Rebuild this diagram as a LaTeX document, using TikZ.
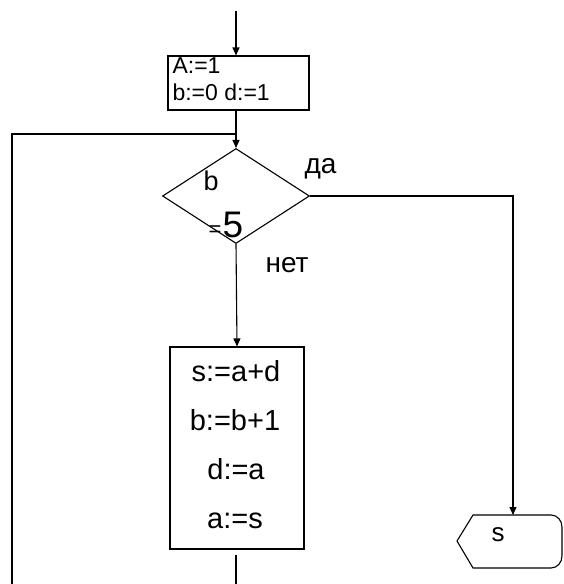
\documentclass[tikz,border=0pt]{standalone}
\usepackage{fontspec}
\setmainfont{Liberation Sans}
\usetikzlibrary{arrows.meta,shapes.geometric}
\begin{document}
\begin{tikzpicture}[x=1pt,y=-1pt,
  line width=1.1pt,
  arr/.style={-{Triangle[length=8pt,width=7pt]}},
  boxstyle/.style={draw,rectangle,inner sep=0pt},
  txtA/.style={inner sep=0pt,font=\fontsize{23}{27}\selectfont},
  txtB/.style={inner sep=0pt,font=\fontsize{29}{33}\selectfont},
]
\useasboundingbox (0,0) rectangle (563,584);
% nodes
\node[boxstyle,minimum width=141pt,minimum height=54pt] (init) at (238.5,83) {};
\node[txtA,anchor=base west] (tA) at (172,73) {A:=1};
\node[txtA,anchor=base west] (tB) at (172,100) {b:=0 d:=1};
\node[draw,diamond,inner sep=0pt,minimum width=147pt,minimum height=95pt] (dec) at (236,196) {};
\node[inner sep=0pt,anchor=base west,font=\fontsize{27}{30}\selectfont] (db) at (203,190) {b};
\node[inner sep=0pt,anchor=base,font=\fontsize{37}{40}\selectfont] (d5) at (233,237) {5};
\node[inner sep=0pt,anchor=base east,font=\fontsize{22}{24}\selectfont] (deq) at (222,236) {=};
\node[inner sep=0pt,anchor=base west,font=\fontsize{28}{32}\selectfont] (yes) at (304,173) {да};
\node[inner sep=0pt,anchor=base west,font=\fontsize{28}{32}\selectfont] (no) at (265,272) {нет};
\node[boxstyle,minimum width=134pt,minimum height=202pt] (body) at (237,448) {};
\node[txtB,anchor=base] (l1) at (236,381) {s:=a+d};
\node[txtB,anchor=base] (l2) at (235,430) {b:=b+1};
\node[txtB,anchor=base] (l3) at (236,479) {d:=a};
\node[txtB,anchor=base] (l4) at (235,528) {a:=s};
% output shape
\draw (457,541) -- (473,515) -- (551,515) to[out=0,in=90] (562,527) -- (562,556) to[out=-90,in=0] (551,568) -- (473,568) -- cycle;
\coordinate (outtop) at (513,515);
\node[inner sep=0pt,anchor=base,font=\fontsize{26}{30}\selectfont] (outs) at (498,541) {s};
% coordinates
\coordinate (start) at (236,11);
\coordinate (joint) at (236,134);
\coordinate (loopL) at (12,584);
\coordinate (bodyout) at (236,555);
\coordinate (bodyend) at (236,584);
% connectors
\draw[arr] (start) -- (start |- init.north);
\draw[arr] (start |- init.south) -- (dec.north);
\draw (loopL) |- (joint);
\draw[arr] (dec.south) -- (body.north);
\draw[arr] (dec.east) -| (outtop);
\draw (bodyout) -- (bodyend);
\end{tikzpicture}
\end{document}
